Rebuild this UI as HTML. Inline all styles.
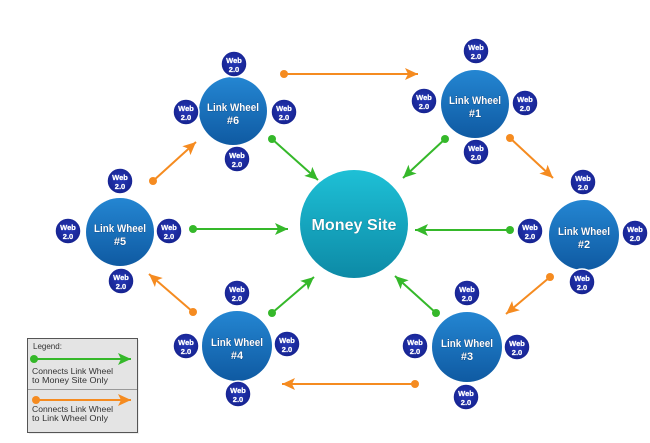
<!DOCTYPE html>
<html><head><meta charset="utf-8"><style>
html,body{margin:0;padding:0;background:#fff;}
svg{display:block;}
text{font-family:"Liberation Sans",Arial,sans-serif;font-weight:bold;fill:#fff;}
.lw{stroke:#0b3d75;stroke-width:0.6;paint-order:stroke;}
.wb{stroke:#fff;stroke-width:0.25;}
</style></head><body>
<svg width="650" height="443" viewBox="0 0 650 443" xmlns="http://www.w3.org/2000/svg">
<defs>
<linearGradient id="gb" x1="0" y1="0" x2="0" y2="1">
<stop offset="0" stop-color="#2486d2"/><stop offset="1" stop-color="#0f5aa2"/>
</linearGradient>
<linearGradient id="gm" x1="0" y1="0" x2="0" y2="1">
<stop offset="0" stop-color="#1ec0d6"/><stop offset="1" stop-color="#0d8aa6"/>
</linearGradient>
<radialGradient id="gw" cx="0.5" cy="0.45" r="0.6">
<stop offset="0" stop-color="#2638b8"/><stop offset="1" stop-color="#14208a"/>
</radialGradient>
<marker id="ao" markerUnits="userSpaceOnUse" markerWidth="16" markerHeight="16" viewBox="-14 -8 15 16" refX="0" refY="0" orient="auto">
<path d="M0,0 L-13,-6 L-10,0 L-13,6 Z" fill="#f58b20"/>
</marker>
<marker id="ag" markerUnits="userSpaceOnUse" markerWidth="16" markerHeight="16" viewBox="-14 -8 15 16" refX="0" refY="0" orient="auto">
<path d="M0,0 L-13,-6 L-10,0 L-13,6 Z" fill="#35b82a"/>
</marker>
</defs>

<!-- orange connectors -->
<g stroke="#f58b20" stroke-width="2" fill="none" marker-end="url(#ao)">
<line x1="284" y1="74" x2="418" y2="74"/>
<line x1="510" y1="138" x2="553" y2="178"/>
<line x1="550" y1="277" x2="506" y2="314"/>
<line x1="415" y1="384" x2="282" y2="384"/>
<line x1="193" y1="312" x2="149" y2="274"/>
<line x1="153" y1="181" x2="196" y2="142"/>
</g>
<g fill="#f58b20">
<circle cx="284" cy="74" r="4"/><circle cx="510" cy="138" r="4"/><circle cx="550" cy="277" r="4"/>
<circle cx="415" cy="384" r="4"/><circle cx="193" cy="312" r="4"/><circle cx="153" cy="181" r="4"/>
</g>
<!-- green connectors -->
<g stroke="#35b82a" stroke-width="2" fill="none" marker-end="url(#ag)">
<line x1="272" y1="139" x2="318" y2="180"/>
<line x1="445" y1="139" x2="403" y2="178"/>
<line x1="510" y1="230" x2="415" y2="230"/>
<line x1="193" y1="229" x2="288" y2="229"/>
<line x1="272" y1="313" x2="314" y2="277"/>
<line x1="436" y1="313" x2="395" y2="276"/>
</g>
<g fill="#35b82a">
<circle cx="272" cy="139" r="4"/><circle cx="445" cy="139" r="4"/><circle cx="510" cy="230" r="4"/>
<circle cx="193" cy="229" r="4"/><circle cx="272" cy="313" r="4"/><circle cx="436" cy="313" r="4"/>
</g>

<!-- Money site -->
<circle cx="354" cy="224" r="54" fill="url(#gm)"/>
<text class="lw" x="354" y="230" font-size="16" text-anchor="middle" textLength="85" lengthAdjust="spacingAndGlyphs" style="stroke:#0a6a80">Money Site</text>

<!-- Link wheels -->
<g>
<circle cx="233" cy="111" r="34" fill="url(#gb)"/>
<text class="lw" x="233" y="111" font-size="11" text-anchor="middle" textLength="52" lengthAdjust="spacingAndGlyphs">Link Wheel</text>
<text class="lw" x="233" y="124" font-size="11" text-anchor="middle">#6</text>

<circle cx="475" cy="104" r="34" fill="url(#gb)"/>
<text class="lw" x="475" y="104" font-size="11" text-anchor="middle" textLength="52" lengthAdjust="spacingAndGlyphs">Link Wheel</text>
<text class="lw" x="475" y="117" font-size="11" text-anchor="middle">#1</text>

<circle cx="584" cy="235" r="35" fill="url(#gb)"/>
<text class="lw" x="584" y="235" font-size="11" text-anchor="middle" textLength="52" lengthAdjust="spacingAndGlyphs">Link Wheel</text>
<text class="lw" x="584" y="248" font-size="11" text-anchor="middle">#2</text>

<circle cx="120" cy="232" r="34" fill="url(#gb)"/>
<text class="lw" x="120" y="232" font-size="11" text-anchor="middle" textLength="52" lengthAdjust="spacingAndGlyphs">Link Wheel</text>
<text class="lw" x="120" y="245" font-size="11" text-anchor="middle">#5</text>

<circle cx="237" cy="346" r="35" fill="url(#gb)"/>
<text class="lw" x="237" y="346" font-size="11" text-anchor="middle" textLength="52" lengthAdjust="spacingAndGlyphs">Link Wheel</text>
<text class="lw" x="237" y="359" font-size="11" text-anchor="middle">#4</text>

<circle cx="467" cy="347" r="35" fill="url(#gb)"/>
<text class="lw" x="467" y="347" font-size="11" text-anchor="middle" textLength="52" lengthAdjust="spacingAndGlyphs">Link Wheel</text>
<text class="lw" x="467" y="360" font-size="11" text-anchor="middle">#3</text>
</g>

<!-- Web 2.0 badges -->
<g id="badges">
<g transform="translate(234,64)"><circle r="13" fill="url(#gw)" stroke="#fff" stroke-width="1.5"/><text class="wb" y="-1" font-size="7.5" text-anchor="middle">Web</text><text class="wb" y="8" font-size="7.5" text-anchor="middle">2.0</text></g>
<g transform="translate(186,112)"><circle r="13" fill="url(#gw)" stroke="#fff" stroke-width="1.5"/><text class="wb" y="-1" font-size="7.5" text-anchor="middle">Web</text><text class="wb" y="8" font-size="7.5" text-anchor="middle">2.0</text></g>
<g transform="translate(284,112)"><circle r="13" fill="url(#gw)" stroke="#fff" stroke-width="1.5"/><text class="wb" y="-1" font-size="7.5" text-anchor="middle">Web</text><text class="wb" y="8" font-size="7.5" text-anchor="middle">2.0</text></g>
<g transform="translate(237,159)"><circle r="13" fill="url(#gw)" stroke="#fff" stroke-width="1.5"/><text class="wb" y="-1" font-size="7.5" text-anchor="middle">Web</text><text class="wb" y="8" font-size="7.5" text-anchor="middle">2.0</text></g>

<g transform="translate(476,51)"><circle r="13" fill="url(#gw)" stroke="#fff" stroke-width="1.5"/><text class="wb" y="-1" font-size="7.5" text-anchor="middle">Web</text><text class="wb" y="8" font-size="7.5" text-anchor="middle">2.0</text></g>
<g transform="translate(424,101)"><circle r="13" fill="url(#gw)" stroke="#fff" stroke-width="1.5"/><text class="wb" y="-1" font-size="7.5" text-anchor="middle">Web</text><text class="wb" y="8" font-size="7.5" text-anchor="middle">2.0</text></g>
<g transform="translate(525,103)"><circle r="13" fill="url(#gw)" stroke="#fff" stroke-width="1.5"/><text class="wb" y="-1" font-size="7.5" text-anchor="middle">Web</text><text class="wb" y="8" font-size="7.5" text-anchor="middle">2.0</text></g>
<g transform="translate(476,152)"><circle r="13" fill="url(#gw)" stroke="#fff" stroke-width="1.5"/><text class="wb" y="-1" font-size="7.5" text-anchor="middle">Web</text><text class="wb" y="8" font-size="7.5" text-anchor="middle">2.0</text></g>

<g transform="translate(583,182)"><circle r="13" fill="url(#gw)" stroke="#fff" stroke-width="1.5"/><text class="wb" y="-1" font-size="7.5" text-anchor="middle">Web</text><text class="wb" y="8" font-size="7.5" text-anchor="middle">2.0</text></g>
<g transform="translate(530,231)"><circle r="13" fill="url(#gw)" stroke="#fff" stroke-width="1.5"/><text class="wb" y="-1" font-size="7.5" text-anchor="middle">Web</text><text class="wb" y="8" font-size="7.5" text-anchor="middle">2.0</text></g>
<g transform="translate(635,233)"><circle r="13" fill="url(#gw)" stroke="#fff" stroke-width="1.5"/><text class="wb" y="-1" font-size="7.5" text-anchor="middle">Web</text><text class="wb" y="8" font-size="7.5" text-anchor="middle">2.0</text></g>
<g transform="translate(582,282)"><circle r="13" fill="url(#gw)" stroke="#fff" stroke-width="1.5"/><text class="wb" y="-1" font-size="7.5" text-anchor="middle">Web</text><text class="wb" y="8" font-size="7.5" text-anchor="middle">2.0</text></g>

<g transform="translate(120,181)"><circle r="13" fill="url(#gw)" stroke="#fff" stroke-width="1.5"/><text class="wb" y="-1" font-size="7.5" text-anchor="middle">Web</text><text class="wb" y="8" font-size="7.5" text-anchor="middle">2.0</text></g>
<g transform="translate(68,231)"><circle r="13" fill="url(#gw)" stroke="#fff" stroke-width="1.5"/><text class="wb" y="-1" font-size="7.5" text-anchor="middle">Web</text><text class="wb" y="8" font-size="7.5" text-anchor="middle">2.0</text></g>
<g transform="translate(169,231)"><circle r="13" fill="url(#gw)" stroke="#fff" stroke-width="1.5"/><text class="wb" y="-1" font-size="7.5" text-anchor="middle">Web</text><text class="wb" y="8" font-size="7.5" text-anchor="middle">2.0</text></g>
<g transform="translate(121,281)"><circle r="13" fill="url(#gw)" stroke="#fff" stroke-width="1.5"/><text class="wb" y="-1" font-size="7.5" text-anchor="middle">Web</text><text class="wb" y="8" font-size="7.5" text-anchor="middle">2.0</text></g>

<g transform="translate(237,293)"><circle r="13" fill="url(#gw)" stroke="#fff" stroke-width="1.5"/><text class="wb" y="-1" font-size="7.5" text-anchor="middle">Web</text><text class="wb" y="8" font-size="7.5" text-anchor="middle">2.0</text></g>
<g transform="translate(186,346)"><circle r="13" fill="url(#gw)" stroke="#fff" stroke-width="1.5"/><text class="wb" y="-1" font-size="7.5" text-anchor="middle">Web</text><text class="wb" y="8" font-size="7.5" text-anchor="middle">2.0</text></g>
<g transform="translate(287,344)"><circle r="13" fill="url(#gw)" stroke="#fff" stroke-width="1.5"/><text class="wb" y="-1" font-size="7.5" text-anchor="middle">Web</text><text class="wb" y="8" font-size="7.5" text-anchor="middle">2.0</text></g>
<g transform="translate(238,394)"><circle r="13" fill="url(#gw)" stroke="#fff" stroke-width="1.5"/><text class="wb" y="-1" font-size="7.5" text-anchor="middle">Web</text><text class="wb" y="8" font-size="7.5" text-anchor="middle">2.0</text></g>

<g transform="translate(467,293)"><circle r="13" fill="url(#gw)" stroke="#fff" stroke-width="1.5"/><text class="wb" y="-1" font-size="7.5" text-anchor="middle">Web</text><text class="wb" y="8" font-size="7.5" text-anchor="middle">2.0</text></g>
<g transform="translate(415,346)"><circle r="13" fill="url(#gw)" stroke="#fff" stroke-width="1.5"/><text class="wb" y="-1" font-size="7.5" text-anchor="middle">Web</text><text class="wb" y="8" font-size="7.5" text-anchor="middle">2.0</text></g>
<g transform="translate(517,347)"><circle r="13" fill="url(#gw)" stroke="#fff" stroke-width="1.5"/><text class="wb" y="-1" font-size="7.5" text-anchor="middle">Web</text><text class="wb" y="8" font-size="7.5" text-anchor="middle">2.0</text></g>
<g transform="translate(466,397)"><circle r="13" fill="url(#gw)" stroke="#fff" stroke-width="1.5"/><text class="wb" y="-1" font-size="7.5" text-anchor="middle">Web</text><text class="wb" y="8" font-size="7.5" text-anchor="middle">2.0</text></g>
</g>

<!-- Legend -->
<rect x="29" y="340" width="110" height="94" fill="#eeeeee"/>
<rect x="27.5" y="338.5" width="110" height="94" fill="#e4e4e4" stroke="#555" stroke-width="1"/>
<line x1="28" y1="389.5" x2="137" y2="389.5" stroke="#999" stroke-width="1"/>
<text x="33" y="349" font-size="8" style="fill:#333;font-weight:normal">Legend:</text>
<text x="32" y="374" font-size="8" textLength="81" lengthAdjust="spacingAndGlyphs" style="fill:#333;font-weight:normal">Connects Link Wheel</text>
<text x="32" y="383" font-size="8" textLength="76" lengthAdjust="spacingAndGlyphs" style="fill:#333;font-weight:normal">to Money Site Only</text>
<text x="32" y="412" font-size="8" textLength="81" lengthAdjust="spacingAndGlyphs" style="fill:#333;font-weight:normal">Connects Link Wheel</text>
<text x="32" y="421" font-size="8" textLength="76" lengthAdjust="spacingAndGlyphs" style="fill:#333;font-weight:normal">to Link Wheel Only</text>
<line x1="34" y1="359" x2="131" y2="359" stroke="#35b82a" stroke-width="2" marker-end="url(#ag)"/>
<circle cx="34" cy="359" r="4" fill="#35b82a"/>
<line x1="36" y1="400" x2="131" y2="400" stroke="#f58b20" stroke-width="2" marker-end="url(#ao)"/>
<circle cx="36" cy="400" r="4" fill="#f58b20"/>
</svg>
</body></html>
